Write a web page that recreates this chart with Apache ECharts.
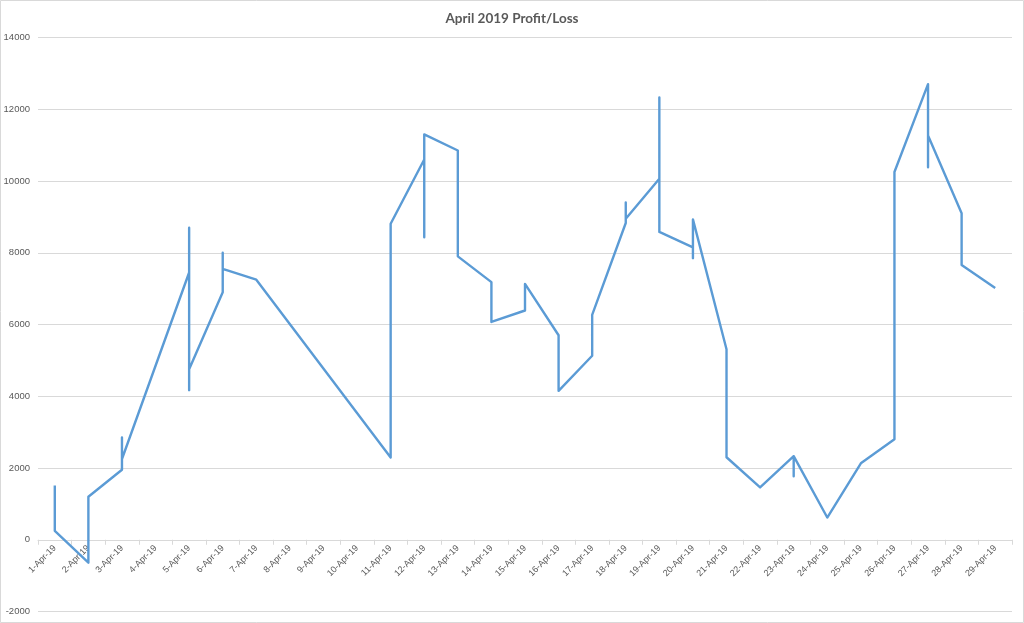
<!DOCTYPE html>
<html>
<head>
<meta charset="utf-8">
<script src="https://cdn.jsdelivr.net/npm/echarts@6/dist/echarts.min.js"></script>
<style>
html,body{margin:0;padding:0;background:#fff;}
#chart{width:1024px;height:623px;}
</style>
</head>
<body>
<div id="chart"></div>
<script>
// Category labels (one per day)
const categories = [
  '1-Apr-19','2-Apr-19','3-Apr-19','4-Apr-19','5-Apr-19','6-Apr-19','7-Apr-19',
  '8-Apr-19','9-Apr-19','10-Apr-19','11-Apr-19','12-Apr-19','13-Apr-19','14-Apr-19',
  '15-Apr-19','16-Apr-19','17-Apr-19','18-Apr-19','19-Apr-19','20-Apr-19','21-Apr-19',
  '22-Apr-19','23-Apr-19','24-Apr-19','25-Apr-19','26-Apr-19','27-Apr-19','28-Apr-19','29-Apr-19'
];

// Profit/Loss readings per day, in recorded order (several entries on some days)
const dailyValues = [
  [1510, 250],            // 1
  [-640, 1200],           // 2
  [1950, 2850, 2250],     // 3
  [],                     // 4
  [7450, 8700, 4170, 4750], // 5
  [6900, 8000, 7550],     // 6
  [7250],                 // 7
  [],                     // 8
  [],                     // 9
  [],                     // 10
  [2290, 8810],           // 11
  [10600, 8430, 11300],   // 12
  [10850, 7900],          // 13
  [7180, 6070],           // 14
  [6390, 7130],           // 15
  [5700, 4150],           // 16
  [5130, 6270],           // 17
  [8830, 9400, 8950],     // 18
  [10060, 12330, 8580],   // 19
  [8150, 7850, 8930],     // 20
  [5310, 2300],           // 21
  [1460],                 // 22
  [2330, 1770, 2330],     // 23
  [620],                  // 24
  [2130],                 // 25
  [2800, 10250],          // 26
  [12700, 10380, 11270],  // 27
  [9100, 7660],           // 28
  [7020]                  // 29
];

// Y axis ticks
const yMin = -2000, yMax = 14000, yStep = 2000;

// Build [dayIndex, value] points
const points = [];
dailyValues.forEach((vals, i) => vals.forEach(v => points.push([i, v])));

const W = 1024, H = 623;
const gridTop = 37.5, gridBottom = 11.5;
const plotH = H - gridTop - gridBottom;
// move the category axis up so it sits on the zero line
const zeroOffset = -plotH * (0 - yMin) / (yMax - yMin);

const chart = echarts.init(document.getElementById('chart'), null, {renderer: 'canvas', width: W, height: H});
const labelFont = 'Liberation Sans';
chart.setOption({
  animation: false,
  backgroundColor: '#ffffff',
  title: {
    text: 'April 2019 Profit/Loss',
    left: 'center',
    top: 7,
    textStyle: {fontFamily: 'Lato', fontSize: 13.5, fontWeight: 'bold', color: '#595959'}
  },
  graphic: [{
    type: 'rect', silent: true,
    shape: {x: 0.5, y: 0.5, width: 1023, height: 622},
    style: {fill: 'none', stroke: '#d9d9d9', lineWidth: 1}
  }],
  grid: {left: 38, right: 12, top: gridTop, bottom: gridBottom, containLabel: false, outerBoundsMode: 'none'},
  xAxis: [{
    type: 'category',
    data: categories,
    boundaryGap: true,
    position: 'bottom',
    offset: zeroOffset,
    axisLine: {onZero: false, lineStyle: {color: '#d9d9d9', width: 1}},
    axisTick: {show: true, alignWithLabel: false, length: 5, lineStyle: {color: '#d9d9d9'}},
    axisLabel: {rotate: 45, interval: 0, margin: 7, fontFamily: labelFont, fontSize: 9, color: '#595959'},
    splitLine: {show: false}
  }, {
    type: 'value',
    min: -0.5, max: 28.5,
    show: false,
    position: 'top',
    axisLine: {onZero: false},
    splitLine: {show: false}
  }],
  yAxis: {
    type: 'value',
    min: yMin, max: yMax, interval: yStep,
    axisLine: {show: false, onZero: false},
    axisTick: {show: false},
    axisLabel: {margin: 8, fontFamily: labelFont, fontSize: 9.5, color: '#595959', formatter: v => String(v)},
    splitLine: {lineStyle: {color: '#d9d9d9', width: 1}}
  },
  series: [{
    type: 'line',
    xAxisIndex: 1,
    data: points,
    showSymbol: false,
    symbol: 'none',
    lineStyle: {color: '#5B9BD5', width: 2.4, join: 'round'},
    itemStyle: {color: '#5B9BD5'}
  }]
});
</script>
</body>
</html>
